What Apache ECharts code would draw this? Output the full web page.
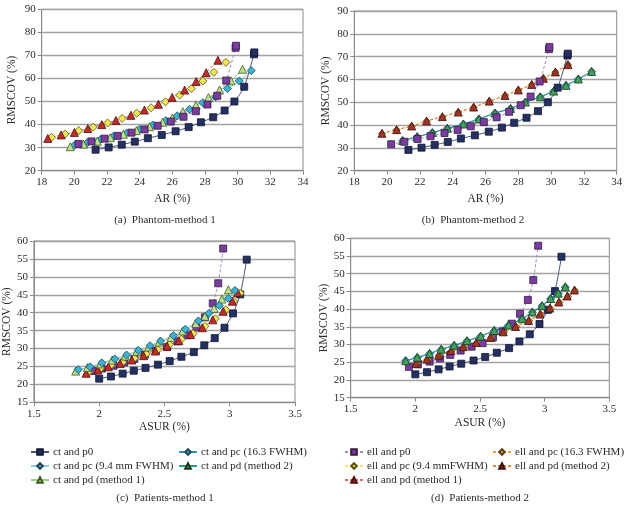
<!DOCTYPE html>
<html><head><meta charset="utf-8">
<script src="https://cdn.jsdelivr.net/npm/echarts@6/dist/echarts.min.js"></script>
<style>html,body{margin:0;padding:0;background:#fff}#c{width:627px;height:508px}</style>
</head><body><div id="c"></div>
<script>
// ---------- Phantom data (AR %, RMSCOV %) ----------
const ctP0Phantom = [[21.3,29.1],[22.1,30.1],[22.9,31.3],[23.7,32.6],[24.5,34.1],[25.35,35.5],[26.2,37.1],[27.0,38.9],[27.75,41.0],[28.5,43.2],[29.2,46.1],[29.8,50.0],[30.4,56.4],[31.0,70.5],[31.02,71.3]];
const ellP0Phantom = [[20.25,31.6],[21.05,32.7],[21.85,33.9],[22.65,35.1],[23.5,36.5],[24.3,37.9],[25.1,39.5],[25.9,41.3],[26.68,43.4],[27.44,45.8],[28.15,48.7],[28.75,52.5],[29.3,59.1],[29.87,73.3],[29.9,74.2]];
const ctPc94Phantom = [[20.0,31.0],[20.8,32.2],[21.6,33.5],[22.4,34.9],[23.2,36.4],[24.0,38.0],[24.8,39.8],[25.6,41.7],[26.3,43.8],[27.05,46.6],[27.87,49.5],[28.65,52.0],[29.38,55.6],[30.1,58.9],[30.83,63.4]];
const ctPdM1Phantom = [[19.75,30.4],[20.55,31.5],[21.4,32.8],[22.2,34.3],[23.0,35.8],[23.8,37.4],[24.6,39.1],[25.4,41.0],[26.0,42.9],[26.64,45.6],[27.44,48.4],[28.21,51.7],[28.89,55.0],[29.59,59.0],[30.3,64.0]];
const ellPc94Phantom = [[18.6,34.5],[19.43,35.9],[20.27,37.4],[21.15,38.9],[22.03,40.7],[22.92,42.7],[23.82,44.9],[24.7,47.3],[25.58,49.9],[26.45,52.8],[27.17,55.6],[27.87,58.9],[28.54,62.7],[29.28,67.0]];
const ellPdM1Phantom = [[18.37,34.0],[19.19,35.5],[20.0,36.6],[20.82,38.3],[21.68,40.0],[22.54,41.8],[23.46,44.0],[24.29,46.3],[25.15,48.8],[25.99,51.8],[26.75,55.0],[27.46,58.7],[28.07,62.5],[28.79,67.9]];
const ctPc163Phantom = [[20.95,33.1],[21.84,34.8],[22.76,36.6],[23.67,38.5],[24.65,40.4],[25.6,42.6],[26.58,45.2],[27.53,47.2],[28.43,50.0],[29.34,52.3],[30.16,54.8],[30.91,57.3],[31.66,60.1],[32.47,63.4]];
const ctPdM2Phantom = [[20.95,33.2],[21.84,34.9],[22.76,36.7],[23.67,38.6],[24.65,40.5],[25.6,42.7],[26.58,45.3],[27.53,47.3],[28.43,50.1],[29.34,52.4],[30.16,54.9],[30.91,57.4],[31.66,60.2],[32.47,63.5]];
const ellPc163Phantom = [[19.69,36.3],[20.58,37.9],[21.5,39.5],[22.41,41.7],[23.37,43.6],[24.34,45.6],[25.28,47.8],[26.23,50.4],[27.19,52.9],[28.0,55.3],[28.82,57.7],[29.53,60.4],[30.26,63.2],[31.03,66.4]];
const ellPdM2Phantom = [[19.69,36.4],[20.58,38.0],[21.5,39.6],[22.41,41.8],[23.37,43.7],[24.34,45.7],[25.28,47.9],[26.23,50.5],[27.19,53.0],[28.0,55.4],[28.82,57.8],[29.53,60.5],[30.26,63.3],[31.03,66.5]];

// ---------- Patient data (ASUR %, RMSCOV %) ----------
const ctP0Patient = [[2.0,21.6],[2.09,22.2],[2.18,23.0],[2.265,23.8],[2.355,24.6],[2.45,25.5],[2.54,26.5],[2.63,27.7],[2.725,29.0],[2.805,30.9],[2.885,32.9],[2.96,35.8],[3.025,39.8],[3.08,45.1],[3.13,54.8]];
const ellP0Patient = [[1.95,23.7],[2.02,24.4],[2.11,25.2],[2.19,26.1],[2.27,27.1],[2.35,28.3],[2.435,29.4],[2.52,30.4],[2.6,32.0],[2.675,33.7],[2.745,35.9],[2.81,38.7],[2.87,42.6],[2.912,48.2],[2.95,57.9]];
const ctPc94Patient = [[1.84,24.1],[1.93,24.9],[2.02,26.0],[2.12,27.1],[2.21,28.2],[2.3,29.5],[2.39,30.8],[2.47,32.1],[2.57,33.6],[2.66,35.4],[2.76,37.7],[2.84,39.8],[2.92,42.0],[2.99,44.0],[3.04,46.2]];
const ctPdM1Patient = [[1.82,23.7],[1.91,24.7],[2.01,25.7],[2.1,26.8],[2.2,27.9],[2.29,29.2],[2.38,30.4],[2.46,31.8],[2.55,33.1],[2.64,34.9],[2.74,37.0],[2.81,39.0],[2.88,41.2],[2.94,43.8],[2.99,46.4]];
const ellPc94Patient = [[1.92,23.5],[2.01,24.4],[2.09,25.3],[2.18,26.2],[2.27,27.3],[2.36,28.5],[2.45,29.7],[2.54,31.1],[2.63,32.6],[2.72,34.2],[2.81,36.2],[2.89,38.3],[2.97,40.8],[3.03,43.2],[3.08,45.4]];
const ellPdM1Patient = [[1.9,23.1],[1.99,24.0],[2.07,24.9],[2.16,25.8],[2.25,26.8],[2.34,28.0],[2.43,29.3],[2.52,30.7],[2.61,32.2],[2.7,33.9],[2.79,35.8],[2.87,38.0],[2.95,40.4],[3.02,43.2],[3.06,45.6]];
const ctPc163Patient = [[1.925,25.4],[2.015,26.3],[2.11,27.4],[2.2,28.6],[2.3,29.7],[2.4,31.0],[2.505,32.3],[2.61,33.9],[2.72,35.4],[2.825,37.2],[2.905,39.1],[2.98,40.9],[3.046,42.9],[3.105,44.4],[3.16,46.2]];
const ctPdM2Patient = [[1.925,25.45],[2.015,26.4],[2.11,27.5],[2.2,28.7],[2.3,29.8],[2.4,31.1],[2.505,32.4],[2.61,34.0],[2.72,35.5],[2.825,37.3],[2.905,39.2],[2.98,41.0],[3.046,43.0],[3.105,44.5],[3.16,46.3]];
const ellPc163Patient = [[2.01,24.6],[2.095,25.8],[2.185,26.9],[2.28,28.2],[2.375,29.3],[2.475,30.5],[2.585,31.9],[2.685,33.5],[2.78,35.0],[2.88,36.7],[2.97,38.5],[3.045,40.2],[3.115,41.9],[3.18,43.6],[3.235,45.3]];
const ellPdM2Patient = [[2.005,24.7],[2.09,25.9],[2.18,27.0],[2.275,28.3],[2.37,29.4],[2.47,30.6],[2.58,32.0],[2.68,33.6],[2.775,35.1],[2.876,36.8],[2.964,38.6],[3.04,40.3],[3.11,42.0],[3.175,43.7],[3.23,45.4]];

// ---------- Labels ----------
const captions = ['(a)  Phantom-method 1','(b)  Phantom-method 2','(c)  Patients-method 1','(d)  Patients-method 2'];
const xNames = ['AR (%)','AR (%)','ASUR (%)','ASUR (%)'];
const yName = 'RMSCOV (%)';
const legendCtCol1 = ['ct and p0','ct and pc (9.4 mm FWHM)','ct and pd (method 1)'];
const legendCtCol2 = ['ct and pc (16.3 FWHM)','ct and pd (method 2)'];
const legendEllCol1 = ['ell and p0','ell and pc (9.4 mmFWHM)','ell and pd (method 1)'];
const legendEllCol2 = ['ell and pc (16.3 FWHM)','ell and pd (method 2)'];

const FONT = 'Liberation Serif';
const TXT = '#2b2b2b';

const styles = {
  'ct and p0': {sym:'rect', size:7, fill:'#24305f', border:'#0f1636', line:'#4a5580', dash:'solid'},
  'ct and pc (9.4 mm FWHM)': {sym:'diamond', size:8, fill:'#3cb3d3', border:'#1b4759', line:'#86cfe6', dash:'solid'},
  'ct and pc (16.3 FWHM)': {sym:'diamond', size:8, fill:'#3cb3d3', border:'#1b4759', line:'#2e93ae', dash:'solid'},
  'ct and pd (method 1)': {sym:'triangle', size:8, fill:'#bfe08e', border:'#3e5a22', line:'#9fd47e', dash:'solid'},
  'ct and pd (method 2)': {sym:'triangle', size:8, fill:'#47a05a', border:'#173a1f', line:'#2c9c86', dash:'solid'},
  'ell and p0': {sym:'rect', size:7, fill:'#7a3d9e', border:'#341a47', line:'#a88bc4', dash:[3,2]},
  'ell and pc (9.4 mmFWHM)': {sym:'diamond', size:8, fill:'#f3e654', border:'#5c5212', line:'#f0e47a', dash:[3,2]},
  'ell and pc (16.3 FWHM)': {sym:'diamond', size:7, fill:'#e8b040', border:'#5c3a12', line:'#eea040', dash:[3,2]},
  'ell and pd (method 1)': {sym:'triangle', size:8, fill:'#c22b28', border:'#4e1010', line:'#e36a66', dash:[3,2]},
  'ell and pd (method 2)': {sym:'triangle', size:8, fill:'#a33328', border:'#3e100c', line:'#e5873a', dash:[3,2]}
};

function mk(name, data, gi) {
  const s = styles[name];
  return {
    name, type:'line', data, xAxisIndex:gi, yAxisIndex:gi,
    smooth:0.25, symbol:s.sym, symbolSize:s.size, showSymbol:true,
    lineStyle:{color:s.line, width:1, type:s.dash},
    itemStyle:{color:s.fill, borderColor:s.border, borderWidth:0.8},
    emphasis:{disabled:true}, animation:false
  };
}

const grids = [
  {left:41.7, top:9.3, width:261.3, height:161.4},
  {left:354.3, top:11, width:262.4, height:159.7},
  {left:31.7, top:241, width:263.3, height:161.3},
  {left:350.7, top:238.3, width:258.6, height:159.4}
];
const xCfg = [[18,34,2],[18,34,2],[1.5,3.5,0.5],[1.5,3.5,0.5]];
const yCfg = [[20,90,10],[20,90,10],[15,60,5],[15,60,5]];
const yNameGap = [24,22,15,21];
const xNameGap = [22,22,19,19];

const axisText = {fontFamily:FONT, fontSize:11, color:TXT};
const xAxis = xCfg.map((c,i)=>({
  type:'value', gridIndex:i, min:c[0], max:c[1], interval:c[2],
  name:xNames[i], nameLocation:'middle', nameGap:xNameGap[i],
  nameTextStyle:{fontFamily:FONT, fontSize:11.5, color:TXT},
  axisLine:{lineStyle:{color:'#8a8a8a', width:1}},
  axisTick:{show:true, length:4, lineStyle:{color:'#8a8a8a'}},
  axisLabel:Object.assign({margin:6}, axisText),
  splitLine:{show:false}
}));
const yAxis = yCfg.map((c,i)=>({
  type:'value', gridIndex:i, min:c[0], max:c[1], interval:c[2],
  name:yName, nameLocation:'middle', nameGap:yNameGap[i], nameRotate:90,
  nameTextStyle:{fontFamily:FONT, fontSize:11.5, color:TXT},
  axisLine:{show:true, lineStyle:{color:'#8a8a8a', width:1}},
  axisTick:{show:true, length:4, lineStyle:{color:'#8a8a8a'}},
  axisLabel:Object.assign({margin:6}, axisText),
  splitLine:{show:true, lineStyle:{color:'#a3a3a3', width:1.3}}
}));

const series = [
  // (a) Phantom-method 1
  mk('ct and pc (9.4 mm FWHM)', ctPc94Phantom, 0),
  mk('ct and pd (method 1)', ctPdM1Phantom, 0),
  mk('ell and pc (9.4 mmFWHM)', ellPc94Phantom, 0),
  mk('ell and pd (method 1)', ellPdM1Phantom, 0),
  mk('ell and p0', ellP0Phantom, 0),
  mk('ct and p0', ctP0Phantom, 0),
  // (b) Phantom-method 2
  mk('ct and pc (16.3 FWHM)', ctPc163Phantom, 1),
  mk('ct and pd (method 2)', ctPdM2Phantom, 1),
  mk('ell and pc (16.3 FWHM)', ellPc163Phantom, 1),
  mk('ell and pd (method 2)', ellPdM2Phantom, 1),
  mk('ell and p0', ellP0Phantom, 1),
  mk('ct and p0', ctP0Phantom, 1),
  // (c) Patients-method 1
  mk('ct and p0', ctP0Patient, 2),
  mk('ell and p0', ellP0Patient, 2),
  mk('ell and pc (9.4 mmFWHM)', ellPc94Patient, 2),
  mk('ell and pd (method 1)', ellPdM1Patient, 2),
  mk('ct and pd (method 1)', ctPdM1Patient, 2),
  mk('ct and pc (9.4 mm FWHM)', ctPc94Patient, 2),
  // (d) Patients-method 2
  mk('ct and p0', ctP0Patient, 3),
  mk('ell and p0', ellP0Patient, 3),
  mk('ell and pc (16.3 FWHM)', ellPc163Patient, 3),
  mk('ell and pd (method 2)', ellPdM2Patient, 3),
  mk('ct and pc (16.3 FWHM)', ctPc163Patient, 3),
  mk('ct and pd (method 2)', ctPdM2Patient, 3)
];

const legBase = {
  orient:'vertical', itemWidth:18, itemHeight:7, itemGap:0, selectedMode:false,
  textStyle:{fontFamily:FONT, fontSize:11, color:TXT, lineHeight:14, padding:[0,0,0,-1]},
  padding:0
};
const legend = [
  Object.assign({}, legBase, {data:legendCtCol1, left:30, top:445}),
  Object.assign({}, legBase, {data:legendCtCol2, left:178, top:445}),
  Object.assign({}, legBase, {data:legendEllCol1, left:344, top:445}),
  Object.assign({}, legBase, {data:legendEllCol2, left:492, top:445})
];

const capPos = [[160,210],[468,210],[160,488],[475,488]];
const title = captions.map((t,i)=>({
  text:t, left:capPos[i][0], top:capPos[i][1], textAlign:'center',
  textStyle:{fontFamily:FONT, fontSize:11, fontWeight:'normal', color:TXT}
}));

const chart = echarts.init(document.getElementById('c'), null, {renderer:'canvas'});
chart.setOption({
  backgroundColor:'#ffffff',
  animation:false,
  title,
  legend,
  grid: grids.map(g=>Object.assign({show:true, borderColor:'#8a8a8a', borderWidth:1, backgroundColor:'transparent'}, g)),
  xAxis, yAxis, series
});
</script></body></html>
